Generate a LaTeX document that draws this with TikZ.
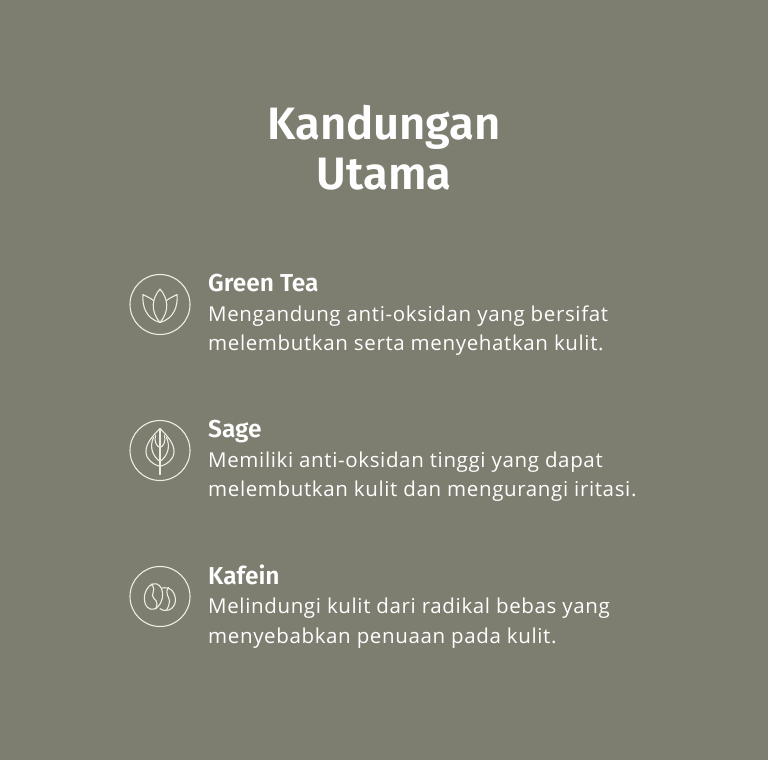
\documentclass[tikz,border=0pt]{standalone}
\usepackage{fontspec}
\setmainfont{Fira Sans}
\newfontfamily\headfont{Fira Sans SemiBold}
\newfontfamily\bodyfont[LetterSpace=3.1]{Open Sans}
\definecolor{bgolive}{HTML}{7D7D70}
\definecolor{inkwhite}{HTML}{FFFFFF}
\definecolor{iconwhite}{HTML}{EDEDE6}
\tikzset{
  titletext/.style={anchor=base,text=inkwhite,inner sep=0pt,font=\headfont\fontsize{45.4}{45.4}\selectfont},
  itemhead/.style={anchor=base west,text=inkwhite,inner sep=0pt,font=\headfont\fontsize{24.5}{24.5}\selectfont},
  itembody/.style={anchor=base west,text=inkwhite,inner sep=0pt,font=\bodyfont\fontsize{20.5}{20.5}\selectfont},
  iconring/.style={draw=iconwhite,circle,line width=1.1pt,minimum size=60pt,inner sep=0pt},
  iconline/.style={draw=iconwhite,line width=1.1pt,line join=round,line cap=round}
}
\begin{document}
\begin{tikzpicture}[x=1pt,y=-1pt]
  \fill[bgolive] (0,0) rectangle (768,760);
  \useasboundingbox (0,0) rectangle (768,760);
  % heading
  \node[titletext] (title1) at (384,139) {Kandungan};
  \node[titletext] (title2) at (384,189) {Utama};
  % green tea
  \node[iconring] (teaicon) at (160,304.5) {};
  \node[itemhead] (teahead) at (208,291) {Green Tea};
  \node[itembody] (tealine1) at (208,321) {Mengandung anti-oksidan yang bersifat};
  \node[itembody] (tealine2) at (208,350) {melembutkan serta menyehatkan kulit.};
  \begin{scope}[shift={(teaicon.center)}]
    \draw[iconline] (0,18) .. controls (-10,6) and (-8,-6) .. (0,-15.5)
      .. controls (8,-6) and (10,6) .. (0,18);
    \draw[iconline] (0,18) .. controls (-14,14) and (-18,2) .. (-17,-10)
      .. controls (-13,-8) and (-9,-6) .. (-6.5,-4);
    \draw[iconline] (0,18) .. controls (14,14) and (18,2) .. (17,-10)
      .. controls (13,-8) and (9,-6) .. (6.5,-4);
  \end{scope}
  % sage
  \node[iconring] (sageicon) at (160,450.5) {};
  \node[itemhead] (sagehead) at (208,437) {Sage};
  \node[itembody] (sageline1) at (208,467) {Memiliki anti-oksidan tinggi yang dapat};
  \node[itembody] (sageline2) at (208,496) {melembutkan kulit dan mengurangi iritasi.};
  \begin{scope}[shift={(sageicon.center)}]
    \draw[iconline] (0,-22) .. controls (-8,-14) and (-14,-7) .. (-14,1)
      .. controls (-14,9) and (-7,14) .. (0,16)
      .. controls (7,14) and (14,9) .. (14,1)
      .. controls (14,-7) and (8,-14) .. (0,-22);
    \draw[iconline] (0,-22) -- (0,24);
    \draw[iconline] (-6.5,-13) .. controls (-11,-3) and (-7,6) .. (0,11)
      .. controls (7,6) and (11,-3) .. (6.5,-13);
    \draw[iconline] (-4.5,-15) .. controls (-6,-8) and (-3,-4) .. (0,-3)
      .. controls (3,-4) and (6,-8) .. (4.5,-15);
  \end{scope}
  % kafein
  \node[iconring] (kafeinicon) at (160,596.5) {};
  \node[itemhead] (kafeinhead) at (208,584) {Kafein};
  \node[itembody] (kafeinline1) at (208,613) {Melindungi kulit dari radikal bebas yang};
  \node[itembody] (kafeinline2) at (208,643) {menyebabkan penuaan pada kulit.};
  \begin{scope}[shift={(kafeinicon.center)}]
    \draw[iconline,rotate around={-12:(-6.5,0)}] (-6.5,0) ellipse (9pt and 13pt);
    \draw[iconline] (-9,-12.5) .. controls (-2,-6) and (-11,-2) .. (-6,2)
      .. controls (-2,5) and (-3,9) .. (-4,12.5);
    \draw[iconline] (2,-8.5) .. controls (5,-9) and (9,-9) .. (12,-6)
      .. controls (17,0) and (17,10) .. (9,13.5)
      .. controls (6,14.5) and (2,14) .. (0,12);
    \draw[iconline] (8.5,-9) .. controls (4,-3) and (10,1) .. (9.5,5)
      .. controls (9.5,8) and (8,11) .. (6.5,14);
  \end{scope}
\end{tikzpicture}
\end{document}
